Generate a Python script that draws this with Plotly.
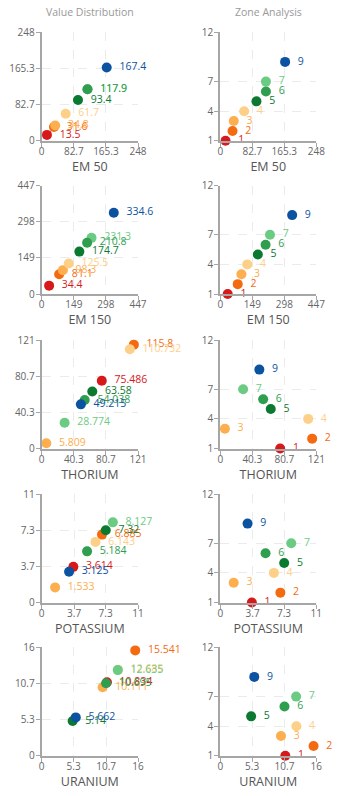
import plotly.graph_objects as go

zones = [1, 2, 3, 4, 5, 6, 7, 9]
zone_colors = ["#d7191c", "#f46a10", "#fdae4e", "#fdd089", "#0b7a30", "#2f9e4f", "#6ccb83", "#0b53a0"]

em50 = [13.5, 31.6, 34.8, 61.7, 93.4, 117.9, 117.9, 167.4]
em150 = [34.4, 81.1, 98.3, 125.5, 174.7, 210.8, 231.3, 334.6]
thorium = [75.486, 115.8, 5.809, 110.732, 63.58, 54.038, 28.774, 49.215]
potassium = [3.614, 6.885, 1.533, 6.143, 7.32, 5.184, 8.127, 3.125]
uranium = [10.834, 15.541, 10.111, 12.685, 5.14, 10.695, 12.635, 5.662]

metrics = ["EM 50", "EM 150", "THORIUM", "POTASSIUM", "URANIUM"]
metric_values = [em50, em150, thorium, potassium, uranium]
metric_max = [248, 447, 121, 11, 16]
metric_ticks = [
    ["0", "82.7", "165.3", "248"],
    ["0", "149", "298", "447"],
    ["0", "40.3", "80.7", "121"],
    ["0", "3.7", "7.3", "11"],
    ["0", "5.3", "10.7", "16"],
]
zone_ticks = [1, 4, 7, 12]
col_titles = ["Value Distribution", "Zone Analysis"]

draw_order = [0, 1, 2, 3, 4, 6, 5, 7]

W, H = 354, 796
fig = go.Figure()
FONT = "Open Sans, Noto Sans, sans-serif"

row_tops = [32.3, 185.5, 340, 494, 647.3]
plot_h = 108.5
col_x = [(41.7, 138.0), (220.3, 316.3)]

axis_common = dict(
    showline=True, linecolor="#a6a6a6", linewidth=2,
    ticks="outside", ticklen=4, tickcolor="#a6a6a6", tickwidth=1,
    showgrid=True, gridcolor="#ebebeb", griddash="dash", gridwidth=1,
    zeroline=False, tickfont=dict(size=10, color="#666666", family=FONT),
    fixedrange=True, automargin=False,
)

idx = 0
for r in range(5):
    vals = metric_values[r]
    mx = metric_max[r]
    tv = [float(t) for t in metric_ticks[r]]
    tv[-1] = mx
    top = row_tops[r]
    y0 = 1 - (top + plot_h) / H
    y1 = 1 - top / H
    for c in range(2):
        idx += 1
        xa = "x" if idx == 1 else f"x{idx}"
        ya = "y" if idx == 1 else f"y{idx}"
        xs = [vals[i] for i in draw_order]
        if c == 0:
            ys = xs
            texts = [str(vals[i]) for i in draw_order]
        else:
            ys = [zones[i] for i in draw_order]
            texts = [str(zones[i]) for i in draw_order]
        cols = [zone_colors[i] for i in draw_order]
        fig.add_trace(go.Scatter(
            x=xs, y=ys, mode="markers+text", text=["  " + t for t in texts],
            textposition="middle right",
            textfont=dict(size=10.5, color=cols, family=FONT),
            marker=dict(size=10, color=cols, line=dict(width=0)),
            cliponaxis=False, showlegend=False, hoverinfo="skip",
            xaxis=xa, yaxis=ya,
        ))
        xd = (col_x[c][0] / W, col_x[c][1] / W)
        fig.layout[("xaxis" if idx == 1 else f"xaxis{idx}")] = dict(
            axis_common, domain=list(xd), range=[0, mx],
            tickvals=tv, ticktext=metric_ticks[r], anchor=ya,
            ticklabelstandoff=-4,
            title=dict(text=metrics[r], font=dict(size=12.5, color="#555555", family=FONT), standoff=0),
        )
        if c == 0:
            ydict = dict(axis_common, domain=[y0, y1], range=[0, mx],
                         tickvals=tv, ticktext=metric_ticks[r], anchor=xa,
                         ticklabelstandoff=-1)
        else:
            ydict = dict(axis_common, domain=[y0, y1], range=[1, 12],
                         tickvals=zone_ticks, ticktext=[str(z) for z in zone_ticks], anchor=xa,
                         ticklabelstandoff=-1)
        fig.layout[("yaxis" if idx == 1 else f"yaxis{idx}")] = ydict

for c in range(2):
    fig.add_annotation(
        text=col_titles[c], xref="paper", yref="paper",
        x=(col_x[c][0] + col_x[c][1]) / 2 / W, y=1 - 12 / H,
        showarrow=False, xanchor="center", yanchor="middle",
        font=dict(size=10.5, color="#999999", family=FONT),
    )

fig.update_layout(
    width=W, height=H, margin=dict(l=0, r=0, t=0, b=0),
    paper_bgcolor="white", plot_bgcolor="white",
    font=dict(family=FONT),
)

fig.write_html("out.html", config={"displayModeBar": False})
